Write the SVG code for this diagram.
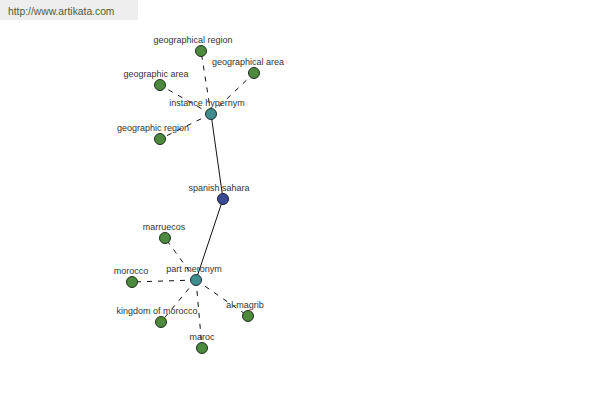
<svg xmlns="http://www.w3.org/2000/svg" width="600" height="400" viewBox="0 0 600 400">
<style>
.lbl{font-family:"Liberation Sans",Arial,sans-serif;font-size:9px;fill:#333;text-anchor:middle}
.leaf{fill:#4e8a3e;stroke:#1e2e1e;stroke-width:1}
.hub{fill:#3f8d8d;stroke:#1e2e2e;stroke-width:1}
.root{fill:#3a4a94;stroke:#1a1a33;stroke-width:1}
.dash{stroke:#111;stroke-width:1;stroke-dasharray:5,6;fill:none}
.solid{stroke:#111;stroke-width:1;fill:none}
</style>
<rect x="0" y="0" width="600" height="400" fill="#fff"/>
<g id="header">
<rect x="0" y="0" width="138" height="20" fill="#eeeeee"/>
<text x="8" y="15" font-family="'Liberation Sans',Arial,sans-serif" font-size="10.3" fill="#4a5e3a">http://www.artikata.com</text>
</g>
<g id="connectors">
<line class="solid" x1="211" y1="114" x2="223" y2="199"/>
<line class="solid" x1="223" y1="199" x2="196" y2="280"/>
<line class="dash" x1="211" y1="114" x2="201" y2="51"/>
<line class="dash" x1="211" y1="114" x2="254" y2="73"/>
<line class="dash" x1="211" y1="114" x2="160" y2="85"/>
<line class="dash" x1="211" y1="114" x2="160" y2="139"/>
<line class="dash" x1="196" y1="280" x2="165" y2="238"/>
<line class="dash" x1="196" y1="280" x2="132" y2="282"/>
<line class="dash" x1="196" y1="280" x2="161" y2="322"/>
<line class="dash" x1="196" y1="280" x2="248" y2="316"/>
<line class="dash" x1="196" y1="280" x2="202" y2="348"/>
</g>
<g id="n-geographical-region"><circle class="leaf" cx="201" cy="51" r="5.5"/><text class="lbl" x="193" y="43">geographical region</text></g>
<g id="n-geographical-area"><circle class="leaf" cx="254" cy="73" r="5.5"/><text class="lbl" x="248" y="65">geographical area</text></g>
<g id="n-geographic-area"><circle class="leaf" cx="160" cy="85" r="5.5"/><text class="lbl" x="156" y="77">geographic area</text></g>
<g id="n-instance-hypernym"><circle class="hub" cx="211" cy="114" r="5.5"/><text class="lbl" x="207" y="106">instance hypernym</text></g>
<g id="n-geographic-region"><circle class="leaf" cx="160" cy="139" r="5.5"/><text class="lbl" x="153" y="131">geographic region</text></g>
<g id="n-spanish-sahara"><circle class="root" cx="223" cy="199" r="5.5"/><text class="lbl" x="219" y="191">spanish sahara</text></g>
<g id="n-marruecos"><circle class="leaf" cx="165" cy="238" r="5.5"/><text class="lbl" x="164" y="230">marruecos</text></g>
<g id="n-part-meronym"><circle class="hub" cx="196" cy="280" r="5.5"/><text class="lbl" x="194" y="272">part meronym</text></g>
<g id="n-morocco"><circle class="leaf" cx="132" cy="282" r="5.5"/><text class="lbl" x="131" y="274">morocco</text></g>
<g id="n-kingdom-of-morocco"><circle class="leaf" cx="161" cy="322" r="5.5"/><text class="lbl" x="157" y="314">kingdom of morocco</text></g>
<g id="n-al-magrib"><circle class="leaf" cx="248" cy="316" r="5.5"/><text class="lbl" x="245" y="308">al-magrib</text></g>
<g id="n-maroc"><circle class="leaf" cx="202" cy="348" r="5.5"/><text class="lbl" x="202" y="340">maroc</text></g>
</svg>
